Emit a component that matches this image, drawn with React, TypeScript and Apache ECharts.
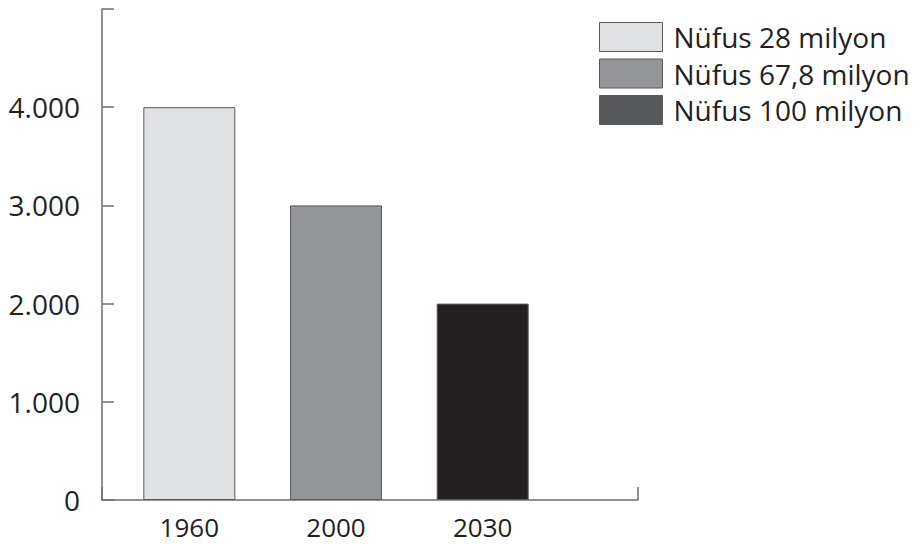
import React, { useEffect, useRef } from "react";
import * as echarts from "echarts";

const categories = ["1960", "2000", "2030"];
const seriesNames = ["Nüfus 28 milyon", "Nüfus 67,8 milyon", "Nüfus 100 milyon"];
const values = [4000, 3000, 2000];
const barColors = ["#e0e1e3", "#939598", "#231f20"];
const legendColors = ["#e0e1e3", "#939598", "#58595b"];
const yTicks = [0, 1000, 2000, 3000, 4000, 5000];

const FONT = "'Open Sans', 'Noto Sans', sans-serif";
const AXIS = "#6d6e71";

export default function App() {
  const ref = useRef<HTMLDivElement>(null);
  useEffect(() => {
    if (!ref.current) return;
    const chart = echarts.init(ref.current, undefined, { renderer: "svg" });
    const yMax = yTicks[yTicks.length - 1];
    const step = yTicks[1] - yTicks[0];
    const series: any[] = seriesNames.map((name, si) => ({
      type: "bar",
      name,
      xAxisIndex: 1,
      yAxisIndex: 1,
      stack: "all",
      barWidth: 92,
      itemStyle: { color: barColors[si], borderColor: "#58595b", borderWidth: 1 },
      data: categories.map((_, ci) => (ci === si ? values[ci] : "-")),
    }));
    chart.setOption({
      animation: false,
      backgroundColor: "#ffffff",
      legend: {
        orient: "vertical",
        left: 599,
        top: 22,
        padding: 0,
        itemWidth: 63,
        itemHeight: 29,
        itemGap: 6.5,
        icon: "rect",
        selectedMode: false,
        textStyle: { fontFamily: FONT, fontSize: 28, color: "#231f20", padding: [0, 0, 0, 6] },
        data: seriesNames.map((name, i) => ({
          name,
          itemStyle: { color: legendColors[i], borderColor: "#58595b", borderWidth: 1 },
        })),
      },
      grid: [
        { left: 102, width: 536, top: 9, bottom: 44 },
        { left: 116, width: 440, top: 9, bottom: 44 },
      ],
      xAxis: [
        {
          type: "value",
          gridIndex: 0,
          min: 0,
          max: 1,
          interval: 1,
          axisLine: { show: true, lineStyle: { color: AXIS, width: 1.5 } },
          axisTick: { show: true, inside: true, length: 13, lineStyle: { color: AXIS, width: 1.5 } },
          axisLabel: { show: false },
          splitLine: { show: false },
        },
        {
          type: "category",
          gridIndex: 1,
          data: categories,
          axisLine: { show: false },
          axisTick: { show: false },
          axisLabel: { margin: 14, fontFamily: FONT, fontSize: 26, color: "#231f20" },
        },
      ],
      yAxis: [
        {
          type: "value",
          gridIndex: 0,
          min: 0,
          max: yMax,
          interval: step,
          axisLine: { show: true, lineStyle: { color: AXIS, width: 1.5 } },
          axisTick: { show: true, inside: true, length: 12, lineStyle: { color: AXIS, width: 1.5 } },
          splitLine: { show: false },
          axisLabel: {
            margin: 22,
            fontFamily: FONT,
            fontSize: 28,
            color: "#231f20",
            formatter: (v: number) =>
              v === yMax ? "" : v.toString().replace(/\B(?=(\d{3})+(?!\d))/g, "."),
          },
        },
        {
          type: "value",
          gridIndex: 1,
          min: 0,
          max: yMax,
          show: false,
        },
      ],
      series,
    });
    return () => chart.dispose();
  }, []);
  return (
    <div
      ref={ref}
      style={{ position: "fixed", left: 0, top: 0, width: 920, height: 544, background: "#fff" }}
    />
  );
}
